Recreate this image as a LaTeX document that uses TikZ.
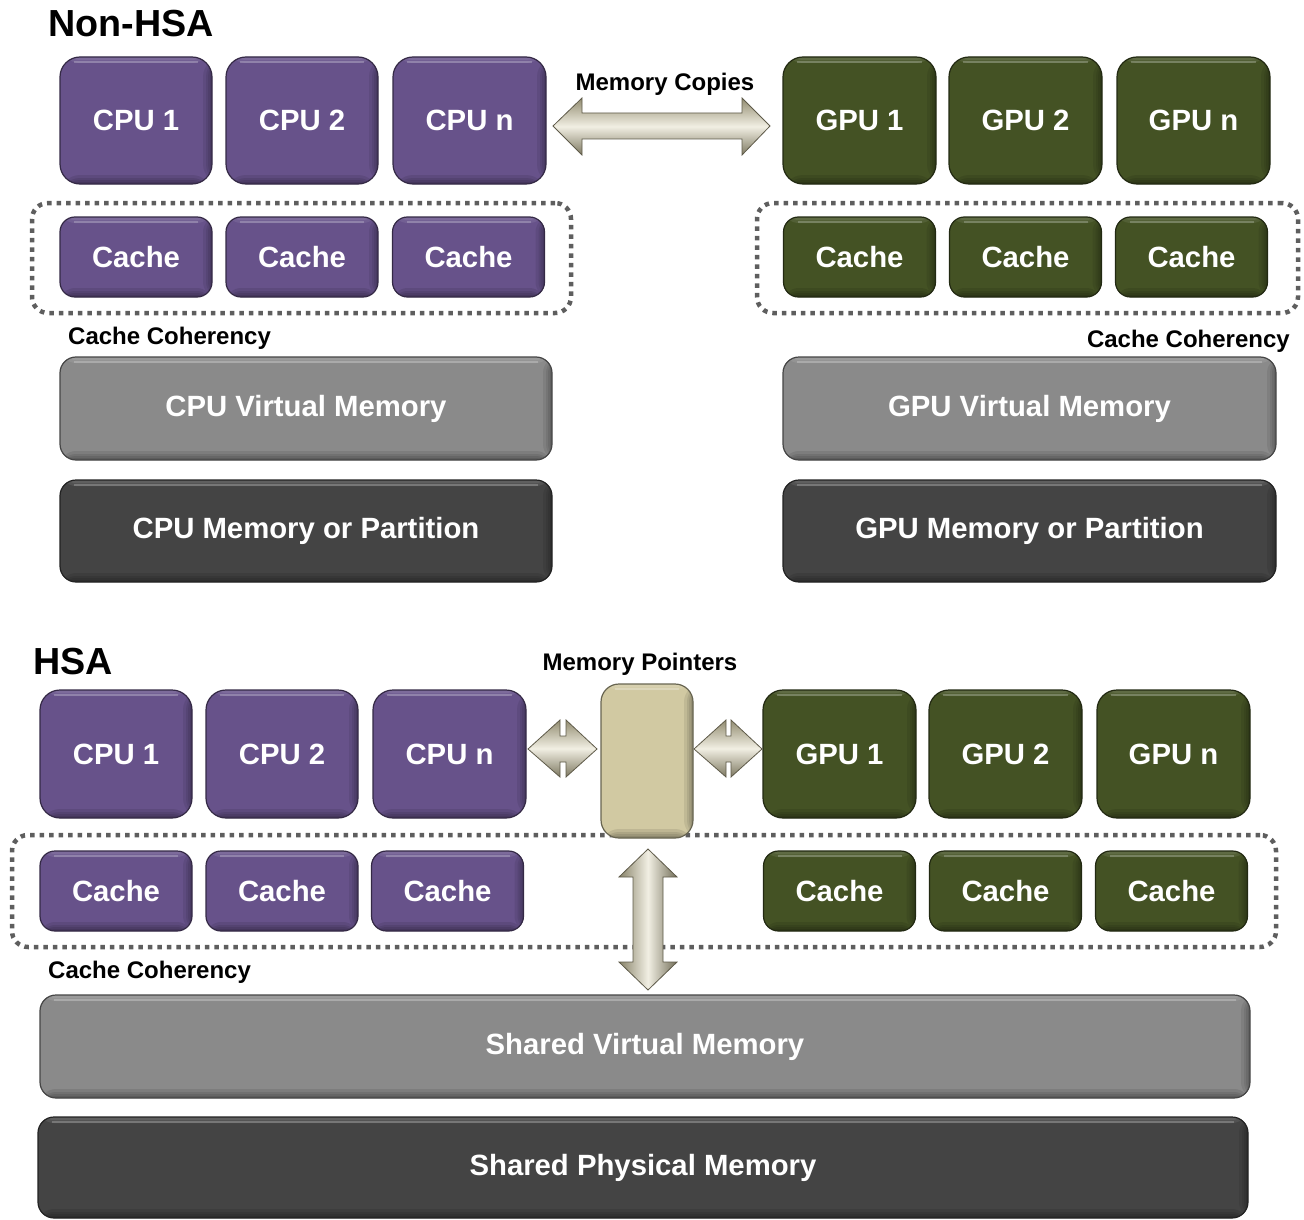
\documentclass[tikz,border=0pt]{standalone}
\usepackage{fontspec}
\setmainfont{Liberation Sans}
\definecolor{cpu}{HTML}{67528A}
\definecolor{gpu}{HTML}{445224}
\definecolor{vmem}{HTML}{8A8A8A}
\definecolor{pmem}{HTML}{444444}
\definecolor{beige}{HTML}{D1C9A2}
\definecolor{dotc}{HTML}{5E5E5E}
\tikzset{
  box/.style={draw=#1!50!black, fill=#1, line width=1.2pt, text=white, inner sep=0pt,
    font=\bfseries\fontsize{29.3}{31}\selectfont,
    path picture={
      \foreach \d in {9,6,4,2}{
        \fill[black,opacity=0.09] ([yshift=\d pt]path picture bounding box.south west) rectangle (path picture bounding box.south east);
        \fill[black,opacity=0.08] ([xshift=-\d pt]path picture bounding box.north east) rectangle (path picture bounding box.south east);
      }
      \foreach \d in {3,6}{
        \fill[white,opacity=0.08] (path picture bounding box.north west) rectangle ([yshift=-\d pt]path picture bounding box.north east);
      }
      \draw[white,opacity=0.22,line width=2pt] ([xshift=14pt,yshift=-5pt]path picture bounding box.north west) -- ([xshift=-14pt,yshift=-5pt]path picture bounding box.north east);
    }},
  unitbox/.style={box=#1, rounded corners=20pt},
  cachebox/.style={box=#1, rounded corners=15pt, minimum width=152pt, minimum height=80pt},
  membox/.style={box=#1, rounded corners=16pt},
  dotbox/.style={draw=dotc, line width=4.5pt, dash pattern=on 4.5pt off 5pt, rounded corners=16pt, inner sep=0pt},
  title/.style={font=\bfseries\fontsize{37.7}{40}\selectfont, inner sep=0pt},
  lbl/.style={font=\bfseries\fontsize{24}{26}\selectfont, inner sep=0pt},
  arrowfill/.style={draw=beige!45!black, line width=0.8pt, top color=beige!70!black, bottom color=beige!60!black, middle color=beige!30!white},
  varrowfill/.style={draw=beige!45!black, line width=0.8pt, left color=beige!65!black, right color=beige!55!black, middle color=beige!30!white},
}
\begin{document}
\begin{tikzpicture}[x=1pt,y=-1pt]
\useasboundingbox (0,0) rectangle (1304,1220);

% ---------------- Non-HSA ----------------
\node[title, anchor=base west] (t1) at (48,37) {Non-HSA};

\node[dotbox, minimum width=539pt, minimum height=110pt] (ccl) at (301.5,258) {};
\node[dotbox, minimum width=541pt, minimum height=110pt] (ccr) at (1027.5,258) {};

\node[unitbox=cpu, minimum width=152pt, minimum height=127pt] (c1) at (136,120.5) {CPU 1};
\node[unitbox=cpu, minimum width=152pt, minimum height=127pt] (c2) at (302,120.5) {CPU 2};
\node[unitbox=cpu, minimum width=153pt, minimum height=127pt] (cn) at (469.5,120.5) {CPU n};
\node[unitbox=gpu, minimum width=153pt, minimum height=127pt] (g1) at (859.5,120.5) {GPU 1};
\node[unitbox=gpu, minimum width=153pt, minimum height=127pt] (g2) at (1025.5,120.5) {GPU 2};
\node[unitbox=gpu, minimum width=153pt, minimum height=127pt] (gn) at (1193.5,120.5) {GPU n};

\node[cachebox=cpu] (cc1) at (136,257) {Cache};
\node[cachebox=cpu] (cc2) at (302,257) {Cache};
\node[cachebox=cpu] (cc3) at (468.5,257) {Cache};
\node[cachebox=gpu] (gc1) at (859.5,257) {Cache};
\node[cachebox=gpu] (gc2) at (1025.5,257) {Cache};
\node[cachebox=gpu] (gc3) at (1191.5,257) {Cache};

\node[lbl, anchor=base west] (lcc1) at (68,344) {Cache Coherency};
\node[lbl, anchor=base east] (lcc2) at (1290,347) {Cache Coherency};

\node[membox=vmem, minimum width=492pt, minimum height=103pt] (cvm) at (306,408.5) {CPU Virtual Memory};
\node[membox=vmem, minimum width=493pt, minimum height=103pt] (gvm) at (1029.5,408.5) {GPU Virtual Memory};
\node[membox=pmem, minimum width=492pt, minimum height=102pt] (cpm) at (306,531) {CPU Memory or Partition};
\node[membox=pmem, minimum width=493pt, minimum height=102pt] (gpm) at (1029.5,531) {GPU Memory or Partition};

\node[lbl, anchor=base] (lmc) at (665,91) {Memory Copies};
\path[arrowfill] (553,126) -- (582,98) -- (582,113) -- (742,113) -- (742,98) -- (770,126)
  -- (742,155) -- (742,139) -- (582,139) -- (582,155) -- cycle;

% ---------------- HSA ----------------
\node[title, anchor=base west] (t2) at (33,674) {HSA};

\node[dotbox, minimum width=1264pt, minimum height=112pt] (cch) at (644,891) {};

\node[unitbox=cpu, minimum width=152pt, minimum height=128pt] (h1) at (116,754) {CPU 1};
\node[unitbox=cpu, minimum width=152pt, minimum height=128pt] (h2) at (282,754) {CPU 2};
\node[unitbox=cpu, minimum width=153pt, minimum height=128pt] (hn) at (449.5,754) {CPU n};
\node[unitbox=gpu, minimum width=153pt, minimum height=128pt] (k1) at (839.5,754) {GPU 1};
\node[unitbox=gpu, minimum width=153pt, minimum height=128pt] (k2) at (1005.5,754) {GPU 2};
\node[unitbox=gpu, minimum width=153pt, minimum height=128pt] (kn) at (1173.5,754) {GPU n};

\node[cachebox=cpu] (hc1) at (116,891) {Cache};
\node[cachebox=cpu] (hc2) at (282,891) {Cache};
\node[cachebox=cpu] (hc3) at (447.5,891) {Cache};
\node[cachebox=gpu] (kc1) at (839.5,891) {Cache};
\node[cachebox=gpu] (kc2) at (1005.5,891) {Cache};
\node[cachebox=gpu] (kc3) at (1171.5,891) {Cache};

\node[lbl, anchor=base west] (lcc3) at (48,978) {Cache Coherency};

\node[membox=vmem, minimum width=1210pt, minimum height=103pt] (svm) at (645,1046.5) {Shared Virtual Memory};
\node[membox=pmem, minimum width=1210pt, minimum height=101pt] (spm) at (643,1167.5) {Shared Physical Memory};

\node[lbl, anchor=base] (lmp) at (640,670) {Memory Pointers};
\node[box=beige, rounded corners=18pt, minimum width=92pt, minimum height=154pt] (ptr) at (647,761) {};

% small double arrows
\path[arrowfill] (528,749) -- (560,720) -- (560,736) -- (566,736) -- (566,720) -- (597,749)
  -- (566,777) -- (566,762) -- (560,762) -- (560,777) -- cycle;
\path[arrowfill] (694,749) -- (726,720) -- (726,736) -- (731,736) -- (731,720) -- (762,749)
  -- (731,777) -- (731,762) -- (726,762) -- (726,777) -- cycle;
% vertical double arrow
\path[varrowfill] (648,849) -- (677,877) -- (663,877) -- (663,962) -- (677,962) -- (648,990)
  -- (619,962) -- (633,962) -- (633,877) -- (619,877) -- cycle;
\end{tikzpicture}
\end{document}
